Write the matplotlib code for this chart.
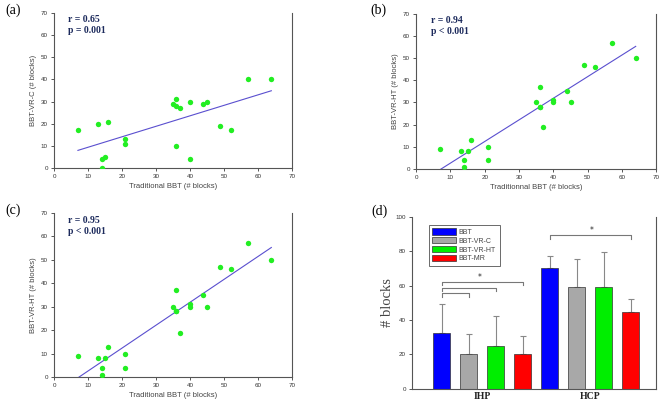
import numpy as np
import matplotlib
matplotlib.use("Agg")
import matplotlib.pyplot as plt

# traditional BBT scores (shared x for scatter panels)
trad_bbt = [7, 13, 14, 14, 15, 16, 21, 21, 35, 36, 36, 36, 37, 40, 40, 44, 45, 49, 52, 57, 64]
vr_c = [17, 20, 0, 4, 5, 21, 13, 11, 29, 31, 28, 10, 27, 30, 4, 29, 30, 19, 17, 40, 40]
vr_ht_b = [9, 8, 1, 4, 8, 13, 10, 4, 30, 37, 28, 28, 19, 31, 30, 35, 30, 47, 46, 57, 50]
vr_ht_c = [9, 8, 1, 4, 8, 13, 10, 4, 30, 37, 28, 28, 19, 31, 30, 35, 30, 47, 46, 57, 50]

# bar panel
groups = ["IHP", "HCP"]
series = ["BBT", "BBT-VR-C", "BBT-VR-HT", "BBT-MR"]
colors = ["#0000ff", "#a8a8a8", "#00ee00", "#ff0000"]
means = {"IHP": [32.7, 20.1, 25.2, 20.3], "HCP": [70.2, 59.5, 59.5, 44.8]}
errs = {"IHP": [16.5, 11.7, 17.1, 10.5], "HCP": [7.3, 15.9, 20.0, 7.4]}

TICK_C = "#333333"
SPINE_C = "#555555"
NAVY = "#1c2a5c"


def style_axes(ax):
    ax.spines["top"].set_visible(False)
    for s in ["left", "bottom", "right"]:
        ax.spines[s].set_color(SPINE_C)
        ax.spines[s].set_linewidth(0.8)
    ax.tick_params(direction="out", length=2.5, width=0.7, colors=SPINE_C,
                   labelsize=4.5, labelcolor=TICK_C, pad=2)
    for lab in ax.get_xticklabels() + ax.get_yticklabels():
        lab.set_fontfamily("Liberation Sans")


def scatter_panel(ax, x, y, ylabel, xlabel, r_txt, p_txt):
    x = np.array(x, dtype=float)
    y = np.array(y, dtype=float)
    ax.scatter(x, y, s=15, color="#22ee22", zorder=3, linewidths=0)
    k, b = np.polyfit(x, y, 1)
    xs = np.array([x.min(), x.max()])
    ax.plot(xs, k * xs + b, color="#5a4fcf", lw=0.8, zorder=2)
    ax.set_xlim(0, 70)
    ax.set_ylim(0, 70)
    ax.set_xticks(range(0, 71, 10))
    ax.set_yticks(range(0, 71, 10))
    style_axes(ax)
    ax.set_xlabel(xlabel, fontsize=5.5, color="#444444", family="Liberation Sans", labelpad=3)
    ax.set_ylabel(ylabel, fontsize=5.5, color="#444444", family="Liberation Sans", labelpad=3)
    ax.text(0.06, 0.955, r_txt, transform=ax.transAxes, fontsize=7, fontweight="bold",
            family="Liberation Serif", color=NAVY, va="center")
    ax.text(0.06, 0.885, p_txt, transform=ax.transAxes, fontsize=7, fontweight="bold",
            family="Liberation Serif", color=NAVY, va="center")


fig = plt.figure(figsize=(6.69, 4.05), dpi=100)

ax_a = fig.add_axes([0.081, 0.585, 0.355, 0.383])
ax_b = fig.add_axes([0.622, 0.583, 0.359, 0.383])
ax_c = fig.add_axes([0.081, 0.069, 0.355, 0.405])
ax_d = fig.add_axes([0.616, 0.040, 0.365, 0.424])

scatter_panel(ax_a, trad_bbt, vr_c, "BBT-VR-C (# blocks)", "Traditional BBT (# blocks)",
              "r = 0.65", "p = 0.001")
scatter_panel(ax_b, trad_bbt, vr_ht_b, "BBT-VR-HT (# blocks)", "Traditionnal BBT (# blocks)",
              "r = 0.94", "p < 0.001")
scatter_panel(ax_c, trad_bbt, vr_ht_c, "BBT-VR-HT (# blocks)", "Traditional BBT (# blocks)",
              "r = 0.95", "p < 0.001")

# bar chart
pos = 0
for g in groups:
    for i, name in enumerate(series):
        ax_d.bar(pos, means[g][i], width=0.63, color=colors[i],
                 edgecolor="#333333", linewidth=0.5, zorder=2,
                 label=name if g == "IHP" else None)
        ax_d.errorbar(pos, means[g][i], yerr=[[0], [errs[g][i]]], fmt="none",
                      ecolor="#888888", elinewidth=0.8, capsize=2.5, capthick=0.8, zorder=1)
        pos += 1

ax_d.set_xlim(-1.09, 7.94)
ax_d.set_ylim(0, 100)
ax_d.set_yticks(range(0, 101, 20))
ax_d.set_xticks([1.5, 5.5])
style_axes(ax_d)
ax_d.tick_params(axis="x", length=0)
ax_d.set_xticklabels(groups, fontsize=7, fontweight="bold", family="Liberation Serif",
                     color="#222222")
ax_d.set_ylabel("# blocks", fontsize=10.5, family="Liberation Serif", color="#444444", labelpad=1)


def bracket(ax, x0, x1, y, drop=2.2):
    ax.plot([x0, x0, x1, x1], [y - drop, y, y, y - drop], color="#777777", lw=0.8)


bracket(ax_d, 0, 1, 55.6)
bracket(ax_d, 0, 2, 58.9)
bracket(ax_d, 0, 3, 62.4)
ax_d.text(1.4, 65.0, "*", ha="center", va="center", fontsize=5.5, color="#222222")
bracket(ax_d, 4, 7, 89.5)
ax_d.text(5.55, 92.0, "*", ha="center", va="center", fontsize=5.5, color="#222222")

leg = ax_d.legend(loc="upper left", bbox_to_anchor=(0.055, 0.975),
                  frameon=True, fancybox=False, edgecolor="#444444",
                  handlelength=3.4, handleheight=1.0, labelspacing=0.2,
                  borderpad=0.5, handletextpad=0.4, prop={"family": "Liberation Sans", "size": 5})
leg.get_frame().set_linewidth(0.7)
for t in leg.get_texts():
    t.set_color("#444444")

# panel letters
for lab, (x, y) in zip(["(a)", "(b)", "(c)", "(d)"],
                       [(0.008, 0.975), (0.553, 0.975), (0.008, 0.482), (0.555, 0.478)]):
    fig.text(x, y, lab, fontsize=10, family="Liberation Serif", va="center", ha="left")

fig.savefig("out.png", dpi=100)
